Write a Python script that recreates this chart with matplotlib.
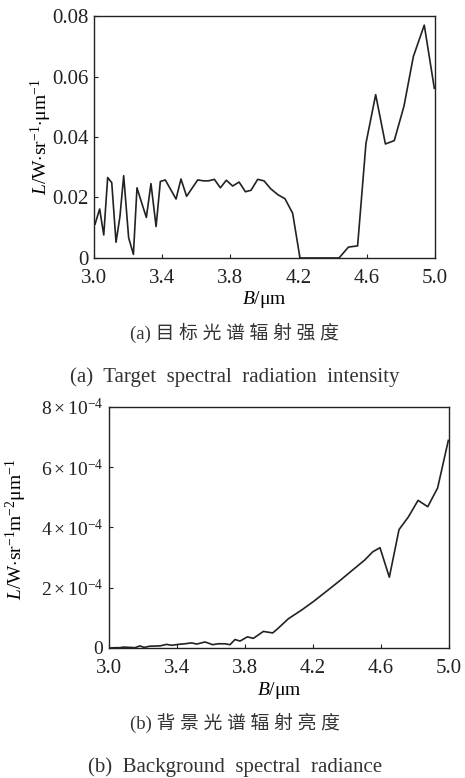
import matplotlib
matplotlib.use("Agg")
import matplotlib.pyplot as plt
from matplotlib.ticker import FixedLocator, FuncFormatter

plt.rcParams['font.family'] = ['Liberation Serif', 'Noto Sans CJK SC']
plt.rcParams['mathtext.fontset'] = 'custom'
plt.rcParams['mathtext.rm'] = 'Liberation Serif'
plt.rcParams['mathtext.it'] = 'Liberation Serif:italic'
plt.rcParams['font.size'] = 14

# (a) target spectral radiation intensity
wl_a = [3.006, 3.033, 3.057, 3.080, 3.104, 3.129, 3.152, 3.174, 3.203, 3.231,
        3.252, 3.278, 3.307, 3.334, 3.364, 3.389, 3.418, 3.481, 3.510, 3.543,
        3.608, 3.643, 3.671, 3.706, 3.741, 3.776, 3.813, 3.851, 3.888, 3.921,
        3.960, 3.997, 4.036, 4.079, 4.120, 4.165, 4.208, 4.300, 4.437, 4.492,
        4.546, 4.595, 4.652, 4.709, 4.761, 4.818, 4.873, 4.937, 4.996]
val_a = [0.0112, 0.0162, 0.0076, 0.0266, 0.0249, 0.0052, 0.0137, 0.0272, 0.0067, 0.0012,
         0.0232, 0.0185, 0.0134, 0.0246, 0.0104, 0.0253, 0.0258, 0.0195, 0.0261, 0.0204,
         0.0258, 0.0255, 0.0255, 0.0260, 0.0232, 0.0257, 0.0238, 0.0251, 0.0219, 0.0224,
         0.0260, 0.0255, 0.0229, 0.0209, 0.0196, 0.0148, 0.0, 0.0, 0.0, 0.0036,
         0.0040, 0.0379, 0.0540, 0.0377, 0.0388, 0.0502, 0.0666, 0.0770, 0.0561]

# (b) background spectral radiance (units of 1e-4)
wl_b = [3.006, 3.035, 3.064, 3.084, 3.123, 3.153, 3.182, 3.206, 3.241, 3.300,
        3.339, 3.369, 3.408, 3.447, 3.486, 3.516, 3.565, 3.610, 3.643, 3.682,
        3.712, 3.741, 3.771, 3.814, 3.849, 3.908, 3.963, 3.996, 4.055, 4.133,
        4.202, 4.290, 4.359, 4.427, 4.506, 4.551, 4.594, 4.649, 4.706, 4.761,
        4.818, 4.875, 4.933, 4.996]
val_b = [0.00, 0.01, 0.01, 0.03, 0.02, 0.01, 0.07, 0.02, 0.06, 0.07,
         0.12, 0.09, 0.12, 0.14, 0.17, 0.13, 0.20, 0.11, 0.14, 0.14,
         0.11, 0.28, 0.23, 0.37, 0.32, 0.55, 0.50, 0.66, 0.97, 1.26,
         1.54, 1.93, 2.24, 2.56, 2.93, 3.19, 3.33, 2.35, 3.93, 4.35,
         4.90, 4.69, 5.31, 6.89]

x_ticks = [3.0, 3.4, 3.8, 4.2, 4.6, 5.0]
ya_ticks = [0, 0.02, 0.04, 0.06, 0.08]
yb_ticks = [0, 2e-4, 4e-4, 6e-4, 8e-4]

line_color = '#222222'

fig = plt.figure(figsize=(4.65, 7.78), dpi=100)
ax1 = fig.add_axes([0.2022, 0.6684, 0.7333, 0.311])
ax2 = fig.add_axes([0.2344, 0.1671, 0.7312, 0.3098])

ax1.plot(wl_a, val_a, color=line_color, lw=1.2)
ax1.set_xlim(3.0, 5.0)
ax1.set_ylim(0, 0.08)
ax1.set_yticks(ya_ticks)
ax1.set_yticklabels(['0', '0.02', '0.04', '0.06', '0.08'])
ax1.tick_params(axis='y', labelsize=15, pad=4)
ax1.set_ylabel(r'$L$/W$\cdot$sr$^{-1}$$\cdot$μm$^{-1}$', fontsize=14)
ax1.yaxis.set_label_coords(-0.117, 0.5)
ax1.xaxis.set_label_coords(0.5, -0.128)

ax2.plot(wl_b, [v * 1e-4 for v in val_b], color=line_color, lw=1.2)
ax2.set_xlim(3.0, 5.0)
ax2.set_ylim(0, 8e-4)
ax2.yaxis.set_major_locator(FixedLocator(yb_ticks))
ax2.yaxis.set_major_formatter(FuncFormatter(
    lambda v, p: '0' if v == 0 else r'$%d\times10^{-4}$' % round(v * 1e4)))
ax2.tick_params(axis='y', labelsize=14, pad=4)
ax2.set_ylabel(r'$L$/W$\cdot$sr$^{-1}$m$^{-2}$μm$^{-1}$', fontsize=14)
ax2.yaxis.set_label_coords(-0.235, 0.494)
ax2.xaxis.set_label_coords(0.5, -0.133)

for ax in (ax1, ax2):
    ax.set_xticks(x_ticks)
    ax.set_xticklabels(['%.1f' % t for t in x_ticks])
    ax.set_xlabel(r'$B$/μm', fontsize=14)
    ax.tick_params(direction='in', length=3, width=0.8, colors='#222222')
    ax.tick_params(axis='x', labelsize=15, pad=8)
    for s in ax.spines.values():
        s.set_linewidth(1.0)
        s.set_color('#222222')

cap = '#333333'
fig.text(0.505, 0.572, '(a) 目 标 光 谱 辐 射 强 度', ha='center', va='center', fontsize=13.5, color=cap)
fig.text(0.505, 0.515, '(a)  Target  spectral  radiation  intensity', ha='center', va='center', fontsize=15, color=cap)
fig.text(0.505, 0.071, '(b) 背 景 光 谱 辐 射 亮 度', ha='center', va='center', fontsize=13.5, color=cap)
fig.text(0.505, 0.014, '(b)  Background  spectral  radiance', ha='center', va='center', fontsize=15, color=cap)

fig.savefig('out.png', dpi=100)
